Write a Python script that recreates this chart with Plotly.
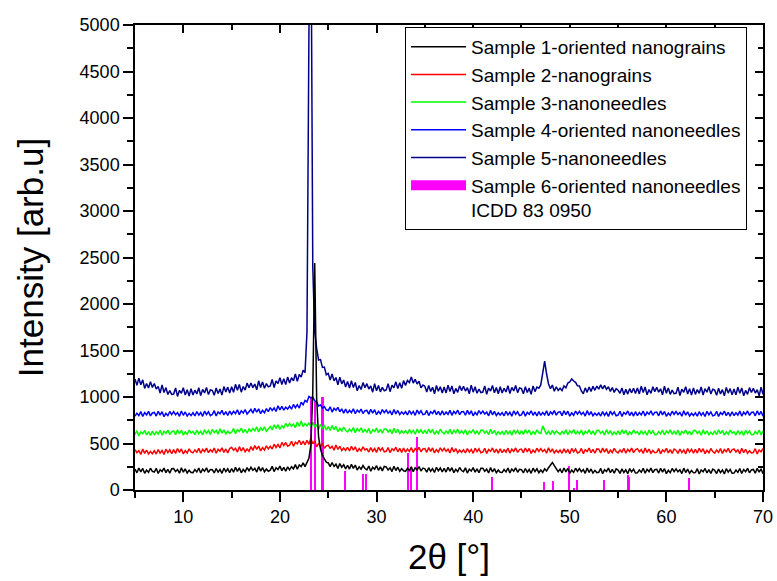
import numpy as np
import plotly.graph_objects as go

# 2-theta sampling grid of the diffractometer scans (0.2 deg step)
two_theta = np.round(np.arange(5.0, 70.0001, 0.2), 1)

# Intensities (arb. units), stacked with vertical offsets as plotted
s1_oriented_nanograins = [
    225, 185, 237, 195, 232, 179, 215, 189, 234, 201,
    192, 233, 177, 219, 199, 236, 187, 223, 181, 228,
    231, 198, 221, 180, 238, 191, 227, 183, 212, 188,
    187, 219, 194, 236, 183, 225, 201, 238, 190, 221,
    218, 183, 231, 192, 221, 179, 235, 198, 228, 186,
    231, 191, 243, 201, 238, 185, 221, 195, 240, 207,
    244, 211, 234, 193, 251, 204, 240, 196, 225, 201,
    213, 254, 198, 240, 220, 257, 208, 244, 202, 249,
    217, 251, 228, 273, 223, 269, 251, 292, 252, 303,
    340, 480, 1050, 2440, 990, 570, 440, 372, 330, 300,
    291, 252, 296, 253, 278, 232, 284, 244, 271, 227,
    266, 225, 276, 232, 268, 214, 250, 224, 263, 231,
    217, 258, 202, 244, 224, 261, 212, 248, 206, 253,
    249, 216, 239, 198, 256, 209, 245, 201, 230, 206,
    201, 233, 208, 250, 197, 239, 215, 252, 204, 235,
    227, 192, 240, 201, 230, 188, 244, 207, 237, 195,
    233, 193, 245, 203, 240, 187, 223, 197, 242, 209,
    197, 238, 182, 224, 204, 241, 192, 228, 186, 233,
    234, 201, 224, 183, 241, 194, 230, 186, 215, 191,
    188, 220, 195, 237, 184, 226, 202, 239, 191, 222,
    218, 183, 231, 192, 221, 179, 235, 198, 228, 186,
    215, 190, 228, 205, 240, 272, 296, 262, 222, 198,
    225, 185, 237, 195, 232, 179, 215, 189, 234, 201,
    230, 197, 220, 179, 237, 190, 226, 182, 211, 187,
    191, 232, 176, 218, 198, 235, 186, 222, 180, 227,
    214, 179, 227, 188, 217, 175, 231, 194, 224, 182,
    184, 216, 191, 233, 180, 222, 198, 235, 187, 218,
    222, 182, 234, 192, 229, 176, 212, 186, 231, 198,
    228, 195, 218, 177, 235, 188, 224, 180, 209, 185,
    188, 229, 173, 215, 195, 232, 183, 219, 177, 224,
    212, 177, 225, 186, 215, 173, 229, 192, 222, 180,
    182, 214, 189, 231, 178, 220, 196, 233, 185, 216,
    221, 181, 233, 191, 228, 175,
]

s2_nanograins = [
    434, 401, 424, 383, 441, 394, 430, 386, 415, 391,
    422, 387, 435, 396, 425, 383, 439, 402, 432, 390,
    434, 394, 446, 404, 441, 388, 424, 398, 443, 410,
    399, 431, 406, 448, 395, 437, 413, 450, 402, 433,
    410, 451, 395, 437, 417, 454, 405, 441, 399, 446,
    459, 426, 449, 408, 466, 419, 455, 411, 440, 416,
    466, 426, 478, 436, 473, 420, 456, 430, 475, 442,
    471, 440, 492, 457, 490, 452, 512, 478, 511, 471,
    481, 524, 470, 514, 496, 535, 488, 526, 486, 535,
    491, 556, 496, 528, 465, 499, 469, 500, 448, 475,
    482, 448, 470, 428, 484, 436, 470, 424, 452, 426,
    460, 419, 470, 428, 465, 411, 446, 420, 463, 430,
    443, 408, 456, 417, 446, 404, 460, 423, 453, 411,
    416, 457, 401, 443, 423, 460, 411, 447, 405, 452,
    408, 440, 415, 457, 404, 446, 422, 459, 411, 442,
    445, 405, 457, 415, 452, 399, 435, 409, 454, 421,
    449, 416, 439, 398, 456, 409, 445, 401, 430, 406,
    433, 398, 446, 407, 436, 394, 450, 413, 443, 401,
    408, 449, 393, 435, 415, 452, 403, 439, 397, 444,
    401, 433, 408, 450, 397, 439, 415, 452, 404, 435,
    440, 400, 452, 410, 447, 394, 430, 404, 449, 416,
    446, 413, 436, 395, 453, 406, 442, 398, 427, 403,
    430, 395, 443, 404, 433, 391, 447, 410, 440, 398,
    406, 447, 391, 433, 413, 450, 401, 437, 395, 442,
    438, 398, 450, 408, 445, 392, 428, 402, 447, 414,
    399, 431, 406, 448, 395, 437, 413, 450, 402, 433,
    444, 411, 434, 393, 451, 404, 440, 396, 425, 401,
    404, 445, 389, 431, 411, 448, 399, 435, 393, 440,
    428, 393, 441, 402, 431, 389, 445, 408, 438, 396,
    437, 397, 449, 407, 444, 391, 427, 401, 446, 413,
    397, 429, 404, 446, 393, 435, 411, 448, 400, 431,
    442, 409, 432, 391, 449, 402, 438, 394, 423, 399,
    403, 444, 388, 430, 410, 447,
]

s3_nanoneedles = [
    597, 638, 582, 624, 604, 641, 592, 628, 586, 633,
    593, 625, 600, 642, 589, 631, 607, 644, 596, 627,
    635, 595, 647, 605, 642, 589, 625, 599, 644, 611,
    630, 595, 643, 604, 633, 591, 647, 610, 640, 598,
    651, 618, 641, 600, 658, 611, 647, 603, 632, 608,
    621, 662, 606, 648, 628, 665, 616, 652, 610, 657,
    629, 661, 636, 678, 625, 667, 643, 680, 632, 663,
    683, 646, 701, 662, 702, 652, 691, 668, 715, 684,
    716, 685, 710, 671, 731, 686, 742, 682, 713, 691,
    721, 684, 727, 681, 702, 654, 706, 665, 691, 645,
    682, 640, 692, 648, 684, 628, 662, 634, 677, 642,
    624, 655, 630, 671, 617, 659, 634, 669, 620, 651,
    621, 662, 606, 648, 628, 665, 616, 652, 610, 657,
    656, 623, 646, 605, 663, 616, 652, 608, 637, 613,
    638, 603, 651, 612, 641, 599, 655, 618, 648, 606,
    644, 604, 656, 614, 651, 598, 634, 608, 653, 620,
    603, 635, 610, 652, 599, 641, 617, 654, 606, 637,
    607, 648, 592, 634, 614, 651, 602, 638, 596, 643,
    645, 612, 635, 594, 652, 605, 641, 597, 626, 602,
    629, 594, 642, 603, 632, 590, 646, 609, 639, 597,
    638, 598, 650, 608, 645, 592, 628, 602, 647, 614,
    608, 690, 636, 598, 632, 596, 641, 603, 633, 611,
    598, 630, 605, 647, 594, 636, 612, 649, 601, 632,
    604, 645, 589, 631, 611, 648, 599, 635, 593, 640,
    642, 609, 632, 591, 649, 602, 638, 594, 623, 599,
    636, 596, 648, 606, 643, 590, 626, 600, 645, 612,
    627, 592, 640, 601, 630, 588, 644, 607, 637, 595,
    596, 628, 603, 645, 592, 634, 610, 647, 599, 630,
    602, 643, 587, 629, 609, 646, 597, 633, 591, 638,
    641, 608, 631, 590, 648, 601, 637, 593, 622, 598,
    635, 595, 647, 605, 642, 589, 625, 599, 644, 611,
    626, 591, 639, 600, 629, 587, 643, 606, 636, 594,
    596, 628, 603, 645, 592, 634,
]

s4_oriented_nanoneedles = [
    794, 826, 801, 843, 790, 832, 808, 845, 797, 828,
    835, 795, 847, 805, 842, 789, 825, 799, 844, 811,
    843, 810, 833, 792, 850, 803, 839, 795, 824, 800,
    831, 796, 844, 805, 834, 792, 848, 811, 841, 799,
    812, 853, 797, 839, 819, 856, 807, 843, 801, 848,
    814, 846, 821, 863, 810, 852, 828, 865, 817, 848,
    866, 826, 878, 836, 873, 820, 856, 830, 875, 842,
    886, 856, 882, 844, 905, 861, 900, 859, 891, 870,
    901, 869, 920, 885, 918, 881, 944, 917, 964, 947,
    1005, 990, 1002, 958, 948, 903, 915, 880, 896, 862,
    855, 894, 838, 878, 856, 889, 841, 872, 826, 871,
    827, 858, 833, 874, 820, 860, 836, 870, 822, 853,
    856, 816, 868, 826, 863, 810, 846, 820, 865, 832,
    859, 826, 849, 808, 866, 819, 855, 811, 840, 816,
    842, 807, 855, 816, 845, 803, 859, 822, 852, 810,
    815, 856, 800, 842, 822, 859, 810, 846, 804, 851,
    807, 839, 814, 856, 803, 845, 821, 858, 810, 841,
    844, 804, 856, 814, 851, 798, 834, 808, 853, 820,
    849, 816, 839, 798, 856, 809, 845, 801, 830, 806,
    833, 798, 846, 807, 836, 794, 850, 813, 843, 801,
    808, 849, 793, 835, 815, 852, 803, 839, 797, 844,
    802, 834, 809, 851, 798, 840, 816, 853, 805, 836,
    840, 800, 852, 810, 847, 794, 830, 804, 849, 816,
    846, 813, 836, 795, 853, 806, 842, 798, 827, 803,
    830, 795, 843, 804, 833, 791, 847, 810, 840, 798,
    806, 847, 791, 833, 813, 850, 801, 837, 795, 842,
    800, 832, 807, 849, 796, 838, 814, 851, 803, 834,
    838, 798, 850, 808, 845, 792, 828, 802, 847, 814,
    844, 811, 834, 793, 851, 804, 840, 796, 825, 801,
    829, 794, 842, 803, 832, 790, 846, 809, 839, 797,
    805, 846, 790, 832, 812, 849, 800, 836, 794, 841,
    799, 831, 806, 848, 795, 837, 813, 850, 802, 833,
    838, 798, 850, 808, 845, 792,
]

s5_nanoneedles = [
    1194, 1125, 1203, 1131, 1185, 1093, 1145, 1097, 1163, 1103,
    1144, 1085, 1114, 1043, 1130, 1048, 1101, 1027, 1069, 1028,
    1032, 1097, 1006, 1072, 1040, 1099, 1021, 1079, 1011, 1088,
    1021, 1073, 1033, 1100, 1015, 1082, 1044, 1103, 1026, 1076,
    1072, 1018, 1097, 1037, 1085, 1020, 1112, 1055, 1106, 1042,
    1111, 1050, 1136, 1072, 1134, 1052, 1113, 1074, 1149, 1099,
    1150, 1101, 1140, 1078, 1174, 1101, 1162, 1095, 1144, 1109,
    1118, 1188, 1102, 1173, 1145, 1208, 1134, 1196, 1133, 1214,
    1151, 1208, 1174, 1247, 1168, 1242, 1214, 1288, 1262, 1700,
    4900, 6500, 2400, 1700, 1525, 1398, 1402, 1318, 1322, 1240,
    1254, 1183, 1247, 1173, 1209, 1132, 1212, 1142, 1182, 1108,
    1167, 1097, 1174, 1101, 1156, 1067, 1123, 1081, 1155, 1100,
    1143, 1086, 1119, 1052, 1143, 1066, 1124, 1055, 1103, 1067,
    1076, 1144, 1057, 1127, 1099, 1163, 1090, 1154, 1093, 1176,
    1125, 1178, 1155, 1215, 1150, 1190, 1140, 1170, 1098, 1128,
    1116, 1053, 1125, 1060, 1104, 1035, 1124, 1063, 1110, 1043,
    1108, 1044, 1127, 1060, 1119, 1034, 1092, 1050, 1122, 1069,
    1116, 1064, 1100, 1035, 1128, 1052, 1110, 1040, 1086, 1048,
    1053, 1119, 1029, 1096, 1064, 1123, 1045, 1103, 1035, 1111,
    1042, 1094, 1054, 1121, 1036, 1103, 1065, 1124, 1047, 1097,
    1090, 1034, 1111, 1049, 1095, 1028, 1118, 1058, 1106, 1095,
    1130, 1260, 1385, 1250, 1140, 1090, 1128, 1062, 1110, 1070,
    1095, 1070, 1120, 1098, 1150, 1162, 1195, 1172, 1158, 1120,
    1118, 1065, 1035, 1098, 1050, 1108, 1060, 1115, 1072, 1118,
    1085, 1130, 1088, 1125, 1082, 1110, 1060, 1102, 1050, 1090,
    1072, 1040, 1098, 1025, 1082, 1031, 1090, 1045, 1095, 1038,
    1097, 1033, 1116, 1049, 1108, 1023, 1081, 1039, 1111, 1058,
    1104, 1052, 1088, 1023, 1116, 1040, 1098, 1028, 1074, 1036,
    1040, 1106, 1016, 1083, 1051, 1110, 1032, 1090, 1022, 1098,
    1028, 1080, 1040, 1107, 1022, 1089, 1051, 1110, 1033, 1083,
    1074, 1018, 1095, 1033, 1079, 1012, 1102, 1042, 1090, 1023,
    1087, 1023, 1106, 1039, 1098, 1013, 1071, 1029, 1101, 1048,
    1094, 1042, 1078, 1013, 1106, 1030,
]

# ICDD 83 0950 reference reflections (stick pattern)
icdd_two_theta = [23.2, 23.65, 24.4, 26.7, 28.6, 28.95, 33.3, 33.6, 34.2, 41.95,
                  47.3, 48.3, 49.95, 50.4, 50.75, 53.5, 56.0, 56.15, 62.3]
icdd_intensity = [990, 950, 1000, 200, 170, 170, 400, 250, 570, 145,
                  90, 100, 260, 20, 110, 110, 165, 140, 130]

series_names = [
    "Sample 1-oriented nanograins",
    "Sample 2-nanograins",
    "Sample 3-nanoneedles",
    "Sample 4-oriented nanoneedles",
    "Sample 5-nanoneedles",
]
series_values = [s1_oriented_nanograins, s2_nanograins, s3_nanoneedles,
                 s4_oriented_nanoneedles, s5_nanoneedles]
series_colors = ["#000000", "#ff0000", "#00ff00", "#0000ff", "#00008b"]
stick_name = "Sample 6-oriented nanoneedles<br>ICDD 83 0950"
stick_color = "#ff00ff"

x_range = [5, 70]
y_range = [0, 5000]
font_family = "Liberation Sans, Arial, sans-serif"

for v in series_values:
    assert len(v) == len(two_theta)

fig = go.Figure()

# legend entry for the stick pattern (wide swatch)
fig.add_trace(go.Scatter(
    x=[None], y=[None], mode="lines", name=stick_name,
    line=dict(color=stick_color, width=16), legendrank=6,
    hoverinfo="skip",
))

# draw the upper scans first so the lower ones sit on top
for rank in range(len(series_names) - 1, -1, -1):
    fig.add_trace(go.Scatter(
        x=two_theta, y=series_values[rank], mode="lines",
        name=series_names[rank], legendrank=rank + 1,
        line=dict(color=series_colors[rank], width=1.5),
    ))

fig.add_trace(go.Bar(
    x=icdd_two_theta, y=icdd_intensity, width=0.22,
    marker=dict(color=stick_color, line=dict(width=0)),
    showlegend=False, name="ICDD 83 0950",
))

# helper trace for the mirrored top/right axes
fig.add_trace(go.Scatter(x=[None], y=[None], xaxis="x2", yaxis="y2",
                         showlegend=False, hoverinfo="skip"))

axis_common = dict(showgrid=False, zeroline=False, showline=True,
                   linecolor="black", linewidth=1.5, automargin=False)

fig.update_layout(
    width=777, height=581,
    margin=dict(l=135, r=14, t=25, b=91),
    paper_bgcolor="white", plot_bgcolor="white",
    font=dict(family=font_family, color="black", size=18),
    bargap=0,
    xaxis=dict(
        **axis_common, range=x_range, dtick=10, tick0=0,
        ticks="outside", ticklen=10, tickwidth=1.5, tickcolor="black",
        minor=dict(dtick=5, tick0=0, ticks="outside", ticklen=6,
                   tickwidth=1.5, tickcolor="black"),
        tickfont=dict(size=18),
        title=dict(text="2θ [°]", font=dict(size=35), standoff=18),
    ),
    yaxis=dict(
        **axis_common, range=y_range, dtick=500, tick0=0,
        ticks="outside", ticklen=10, tickwidth=1.5, tickcolor="black",
        minor=dict(dtick=250, tick0=0, ticks="outside", ticklen=6,
                   tickwidth=1.5, tickcolor="black"),
        tickfont=dict(size=18),
        title=dict(text="Intensity [arb.u]", font=dict(size=35), standoff=25),
    ),
    xaxis2=dict(
        **axis_common, range=x_range, overlaying="x", side="top",
        anchor="y2", dtick=10, tick0=0, ticks="inside", ticklen=8,
        tickwidth=1.5, tickcolor="black", showticklabels=False,
        minor=dict(dtick=5, tick0=0, ticks="inside", ticklen=5,
                   tickwidth=1.5, tickcolor="black"),
    ),
    yaxis2=dict(
        **axis_common, range=y_range, overlaying="y", side="right",
        anchor="x2", dtick=500, tick0=0, ticks="inside", ticklen=8,
        tickwidth=1.5, tickcolor="black", showticklabels=False,
        minor=dict(dtick=250, tick0=0, ticks="inside", ticklen=5,
                   tickwidth=1.5, tickcolor="black"),
    ),
    legend=dict(
        x=0.43, y=0.996, xanchor="left", yanchor="top",
        bgcolor="white", bordercolor="black", borderwidth=1,
        font=dict(size=19, family=font_family), itemwidth=55,
        valign="top", tracegroupgap=0,
    ),
)

fig.write_html("out.html")
